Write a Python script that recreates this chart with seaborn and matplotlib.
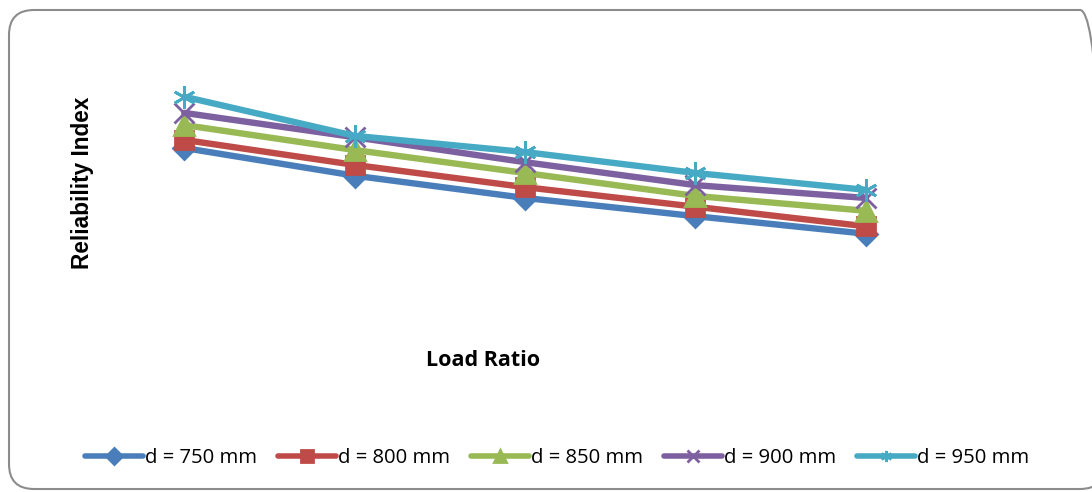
import pandas as pd
import seaborn as sns
import matplotlib.pyplot as plt
from matplotlib.patches import FancyBboxPatch

# values (no ticks shown, arbitrary scale 0-4)
load_ratio = ['0.5', '0.6', '0.7', '0.8', '0.9']
d750 = [2.40, 1.99, 1.66, 1.39, 1.13]
d800 = [2.52, 2.15, 1.82, 1.53, 1.24]
d850 = [2.74, 2.37, 2.03, 1.69, 1.47]
d900 = [2.92, 2.56, 2.19, 1.85, 1.66]
d950 = [3.16, 2.58, 2.34, 2.03, 1.78]
series_names = ['d = 750 mm', 'd = 800 mm', 'd = 850 mm', 'd = 900 mm', 'd = 950 mm']

rows = []
for name, vals in zip(series_names, [d750, d800, d850, d900, d950]):
    for i, v in enumerate(vals):
        rows.append({'pos': i, 'Load Ratio': load_ratio[i], 'Reliability Index': v, 'series': name})
df = pd.DataFrame(rows)

sns.set_style('white')
plt.rcParams['text.color'] = 'black'
colors = ['#4a7ebb', '#be4b48', '#98b954', '#7d60a0', '#46aac5']
markers = ['D', 's', '^', 'x', (6, 2, 0)]
msizes = [11, 13, 14, 14, 16]

fig = plt.figure(figsize=(10.92, 4.92), dpi=100)
# rounded chart border (in inches, so the corner stays circular); right side runs off the canvas
fig.patches.append(FancyBboxPatch((0.09, 0.03), 10.96, 4.79,
                                  boxstyle='round,pad=0,rounding_size=0.25',
                                  transform=fig.dpi_scale_trans, fill=False,
                                  edgecolor='#8c8c8c', linewidth=1.5))
ax = fig.add_axes([99 / 1092, (492 - 310) / 492, 852 / 1092, 270 / 492])

for name, col, mk, ms in zip(series_names, colors, markers, msizes):
    sub = df[df['series'] == name]
    sns.lineplot(data=sub, x='pos', y='Reliability Index', ax=ax, color=col,
                 linewidth=4.6, marker=mk, markersize=ms, markeredgecolor=col,
                 markeredgewidth=2, label=name, legend=False)

ax.set_xlim(-0.5, 4.5)
ax.set_ylim(0, 4)
ax.set_xticks([])
ax.set_yticks([])
ax.set_xlabel('')
ax.set_ylabel('')
for s in ax.spines.values():
    s.set_visible(False)

fig.text(483 / 1092, 1 - 360 / 492, 'Load Ratio', ha='center', va='center',
         fontsize=15.5, fontweight='bold', family=['Open Sans', 'DejaVu Sans'])
fig.text(82 / 1092, 1 - 183 / 492, 'Reliability Index', ha='center', va='center',
         rotation=90, fontsize=16.3, fontweight='bold', family=['Liberation Sans', 'DejaVu Sans'])

h, l = ax.get_legend_handles_labels()
leg = fig.legend(h, l, loc='center', bbox_to_anchor=(557 / 1092, 1 - 458 / 492), ncol=5,
                 frameon=False, handlelength=2.85, handletextpad=0.1, columnspacing=1.05,
                 prop={'family': ['Open Sans', 'DejaVu Sans'], 'size': 14.6})
for lh in leg.legend_handles:
    lh.set_markersize(8)
    lh.set_linewidth(4)

fig.savefig('out.png', dpi=100)
